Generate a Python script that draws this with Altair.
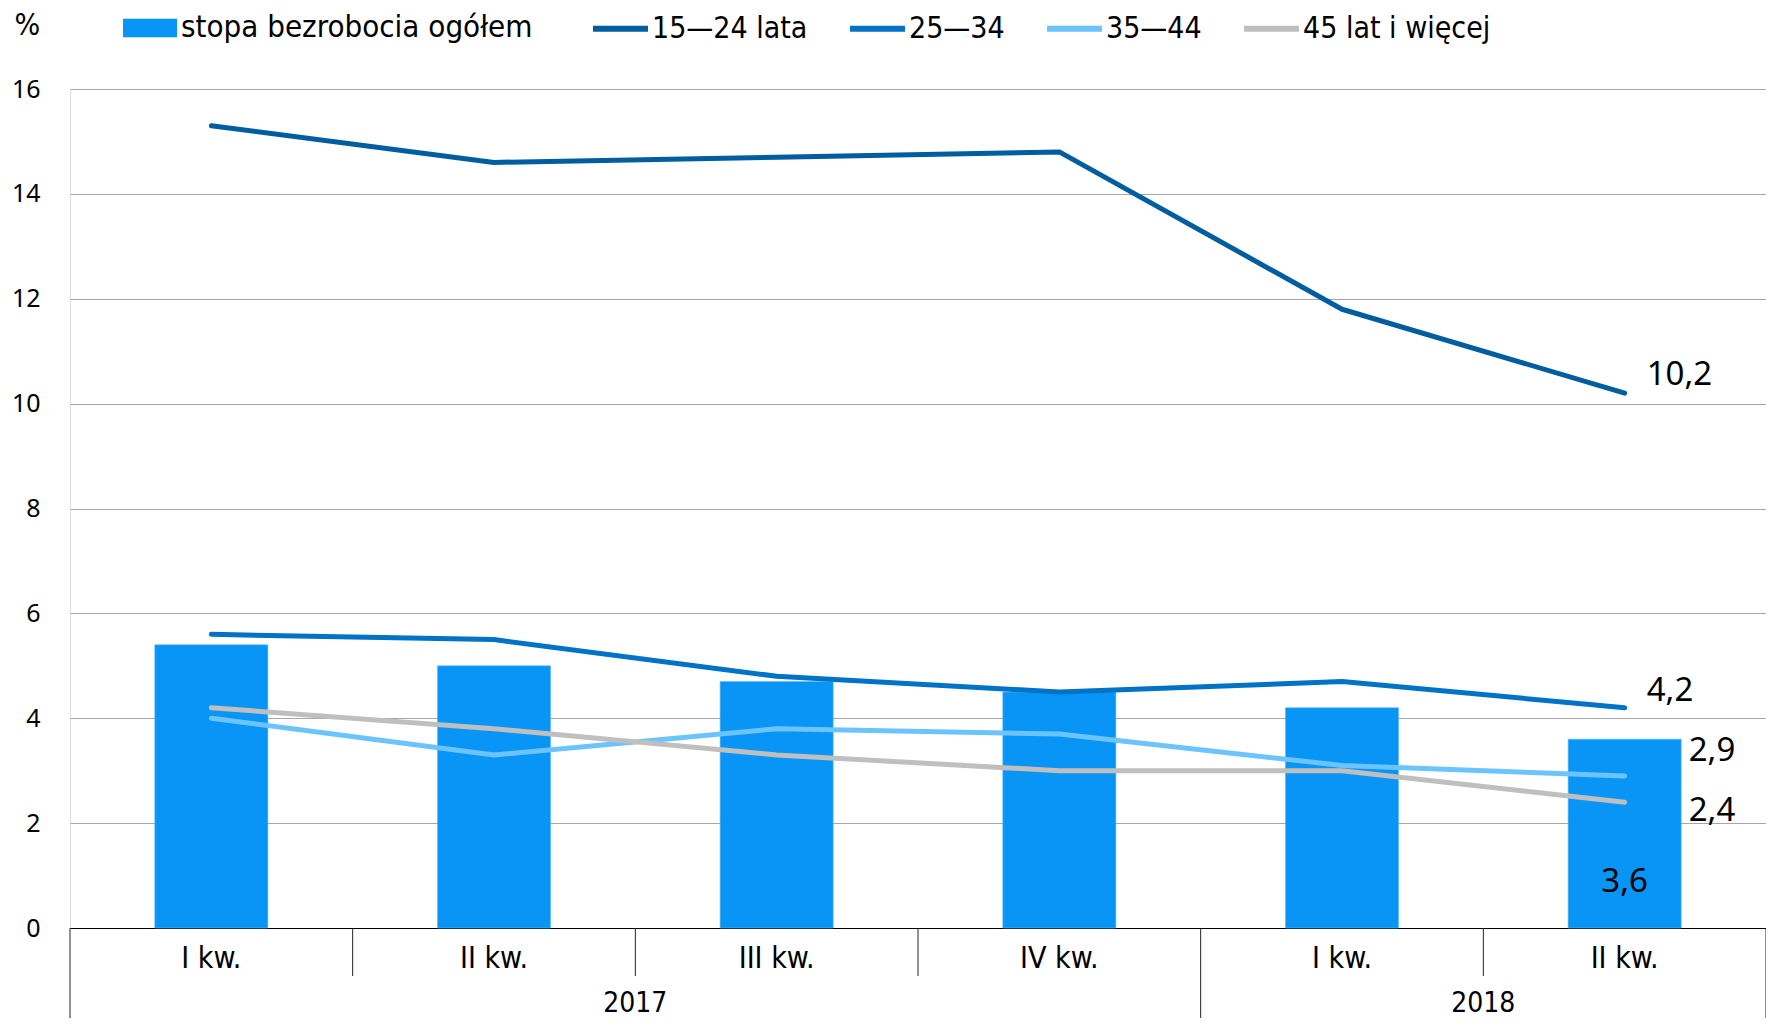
import altair as alt
import pandas as pd

quarters = ["I kw.", "II kw.", "III kw.", "IV kw.", "I kw.", "II kw."]
years = ["2017", "2017", "2017", "2017", "2018", "2018"]
total = [5.4, 5.0, 4.7, 4.5, 4.2, 3.6]
s15_24 = [15.3, 14.6, 14.7, 14.8, 11.8, 10.2]
s25_34 = [5.6, 5.5, 4.8, 4.5, 4.7, 4.2]
s35_44 = [4.0, 3.3, 3.8, 3.7, 3.1, 2.9]
s45 = [4.2, 3.8, 3.3, 3.0, 3.0, 2.4]

bar_name = "stopa bezrobocia ogółem"
series_names = ["15\u201424 lata", "25\u201434", "35\u201444", "45 lat i więcej"]
series_vals = [s15_24, s25_34, s35_44, s45]
series_colors = ["#005D9F", "#0073C7", "#6CC4FF", "#BFBFBF"]
bar_color = "#0895F5"

COND = "DejaVu Sans Condensed, Liberation Sans Narrow, sans-serif"
NUM = "Noto Sans, DejaVu Sans, sans-serif"

W, H = 1696, 839

pos = [i + 0.5 for i in range(len(quarters))]
df = pd.DataFrame({"pos": pos, "q": quarters, "year": years, "total": total,
                   "leg": [bar_name] * len(pos)})

rows = []
for name, vals in zip(series_names, series_vals):
    for p, v in zip(pos, vals):
        rows.append({"pos": p, "series": name, "value": v})
long = pd.DataFrame(rows)

def fmt(v):
    return f"{v:.1f}".replace(".", ",")

xscale = alt.Scale(domain=[0, 6], nice=False, zero=False)
yscale = alt.Scale(domain=[0, 16], nice=False)

yaxis = alt.Axis(values=list(range(0, 17, 2)), grid=True, gridColor="#A6A6A6",
                 gridWidth=1, domain=False, ticks=False, tickSize=0,
                 labelPadding=30, labelFont=NUM, labelFontSize=25,
                 labelColor="#000000", title="%", titleAngle=0,
                 titleX=-56, titleY=-64, titleAlign="left",
                 titleBaseline="middle", titleFont=COND, titleFontSize=30,
                 titleFontWeight="normal", titleColor="#000000")
xaxis = alt.Axis(title=None, labels=False, ticks=False, grid=False,
                 domain=True, domainColor="#000000", domainWidth=1)

bars = alt.Chart(df).transform_calculate(
    x1="datum.pos - 0.2", x2="datum.pos + 0.2"
).mark_bar(stroke="#5DB8F8", strokeWidth=1, strokeOpacity=0.6).encode(
    x=alt.X("x1:Q", scale=xscale, axis=xaxis),
    x2="x2:Q",
    y=alt.Y("total:Q", scale=yscale, axis=yaxis),
    y2=alt.datum(0),
    fill=alt.Fill("leg:N", scale=alt.Scale(domain=[bar_name], range=[bar_color]),
                  legend=alt.Legend(orient="none", legendX=53, legendY=-88,
                                    title=None, direction="horizontal",
                                    symbolType="M-1,-0.34H1V0.34H-1Z",
                                    symbolSize=2916, symbolStrokeWidth=0,
                                    labelFont=COND, labelFontSize=31,
                                    labelColor="#000000", labelLimit=600,
                                    labelOffset=4, padding=0)),
)

lines = alt.Chart(long).mark_line(strokeWidth=5, strokeCap="round",
                                  strokeJoin="round").encode(
    x=alt.X("pos:Q", scale=xscale, axis=xaxis),
    y=alt.Y("value:Q", scale=yscale, axis=yaxis),
    stroke=alt.Stroke("series:N", sort=series_names,
                      scale=alt.Scale(domain=series_names, range=series_colors),
                      legend=alt.Legend(orient="none", legendX=520, legendY=-91,
                                        title=None, direction="horizontal",
                                        columns=4, symbolType="stroke",
                                        symbolSize=3025, symbolStrokeWidth=6,
                                        labelFont=COND, labelFontSize=30,
                                        labelColor="#000000", labelLimit=600,
                                        labelOffset=1, columnPadding=30,
                                        padding=0)),
)

last = len(pos) - 1
lab_specs = [
    (s15_24[last], 22, -18, "left"),
    (s25_34[last], 22, -17, "left"),
    (s35_44[last], 64, -25, "left"),
    (s45[last], 64, 9, "left"),
]
labels = []
for v, dx, dy, al in lab_specs:
    d = pd.DataFrame({"pos": [pos[last]], "value": [v], "t": [fmt(v)]})
    labels.append(alt.Chart(d).mark_text(align=al, baseline="middle", dx=dx, dy=dy,
                                         font=NUM, fontSize=33, color="#000000").encode(
        x=alt.X("pos:Q", scale=xscale, axis=xaxis),
        y=alt.Y("value:Q", scale=yscale, axis=yaxis), text="t:N"))
dtot = pd.DataFrame({"pos": [pos[last]], "value": [0], "t": [fmt(total[last])]})
labels.append(alt.Chart(dtot).mark_text(align="center", baseline="middle", dy=-46,
                                        font=NUM, fontSize=33, color="#000000").encode(
    x=alt.X("pos:Q", scale=xscale, axis=xaxis),
    y=alt.Y("value:Q", scale=yscale, axis=yaxis), text="t:N"))

# category axis below
qtext = alt.Chart(df).mark_text(baseline="middle", align="center", font=COND,
                                fontSize=30, color="#000000").encode(
    x=alt.X("pos:Q", scale=xscale, axis=xaxis), y=alt.value(870), text="q:N")
ytext = alt.Chart(df).transform_aggregate(
    center="mean(pos)", groupby=["year"]
).mark_text(baseline="middle", align="center", font=COND, fontSize=28,
            color="#000000").encode(
    x=alt.X("center:Q", scale=xscale, axis=xaxis), y=alt.value(915), text="year:N")

qsep = pd.DataFrame({"b": [1, 2, 3, 5]})
ysep = pd.DataFrame({"b": [0, 4, 6]})
qrules = alt.Chart(qsep).mark_rule(color="#222222", strokeWidth=1).encode(
    x=alt.X("b:Q", scale=xscale, axis=xaxis), y=alt.value(H), y2=alt.value(H + 48))
yrules = alt.Chart(ysep).mark_rule(color="#222222", strokeWidth=1).encode(
    x=alt.X("b:Q", scale=xscale, axis=xaxis), y=alt.value(H), y2=alt.value(H + 95))

chart = alt.layer(bars, lines, *labels, qtext, ytext, qrules, yrules).resolve_scale(
    fill="independent", stroke="independent"
).properties(
    width=W, height=H,
    padding={"left": 62, "top": 81, "right": 0, "bottom": 90},
    autosize=alt.AutoSizeParams(type="none"),
).configure_view(stroke=None).configure_axisX(grid=False).configure_axisY(
    domain=False
).configure(background="#ffffff")

chart.save("out.html", embed_options={"renderer": "svg", "actions": False})
